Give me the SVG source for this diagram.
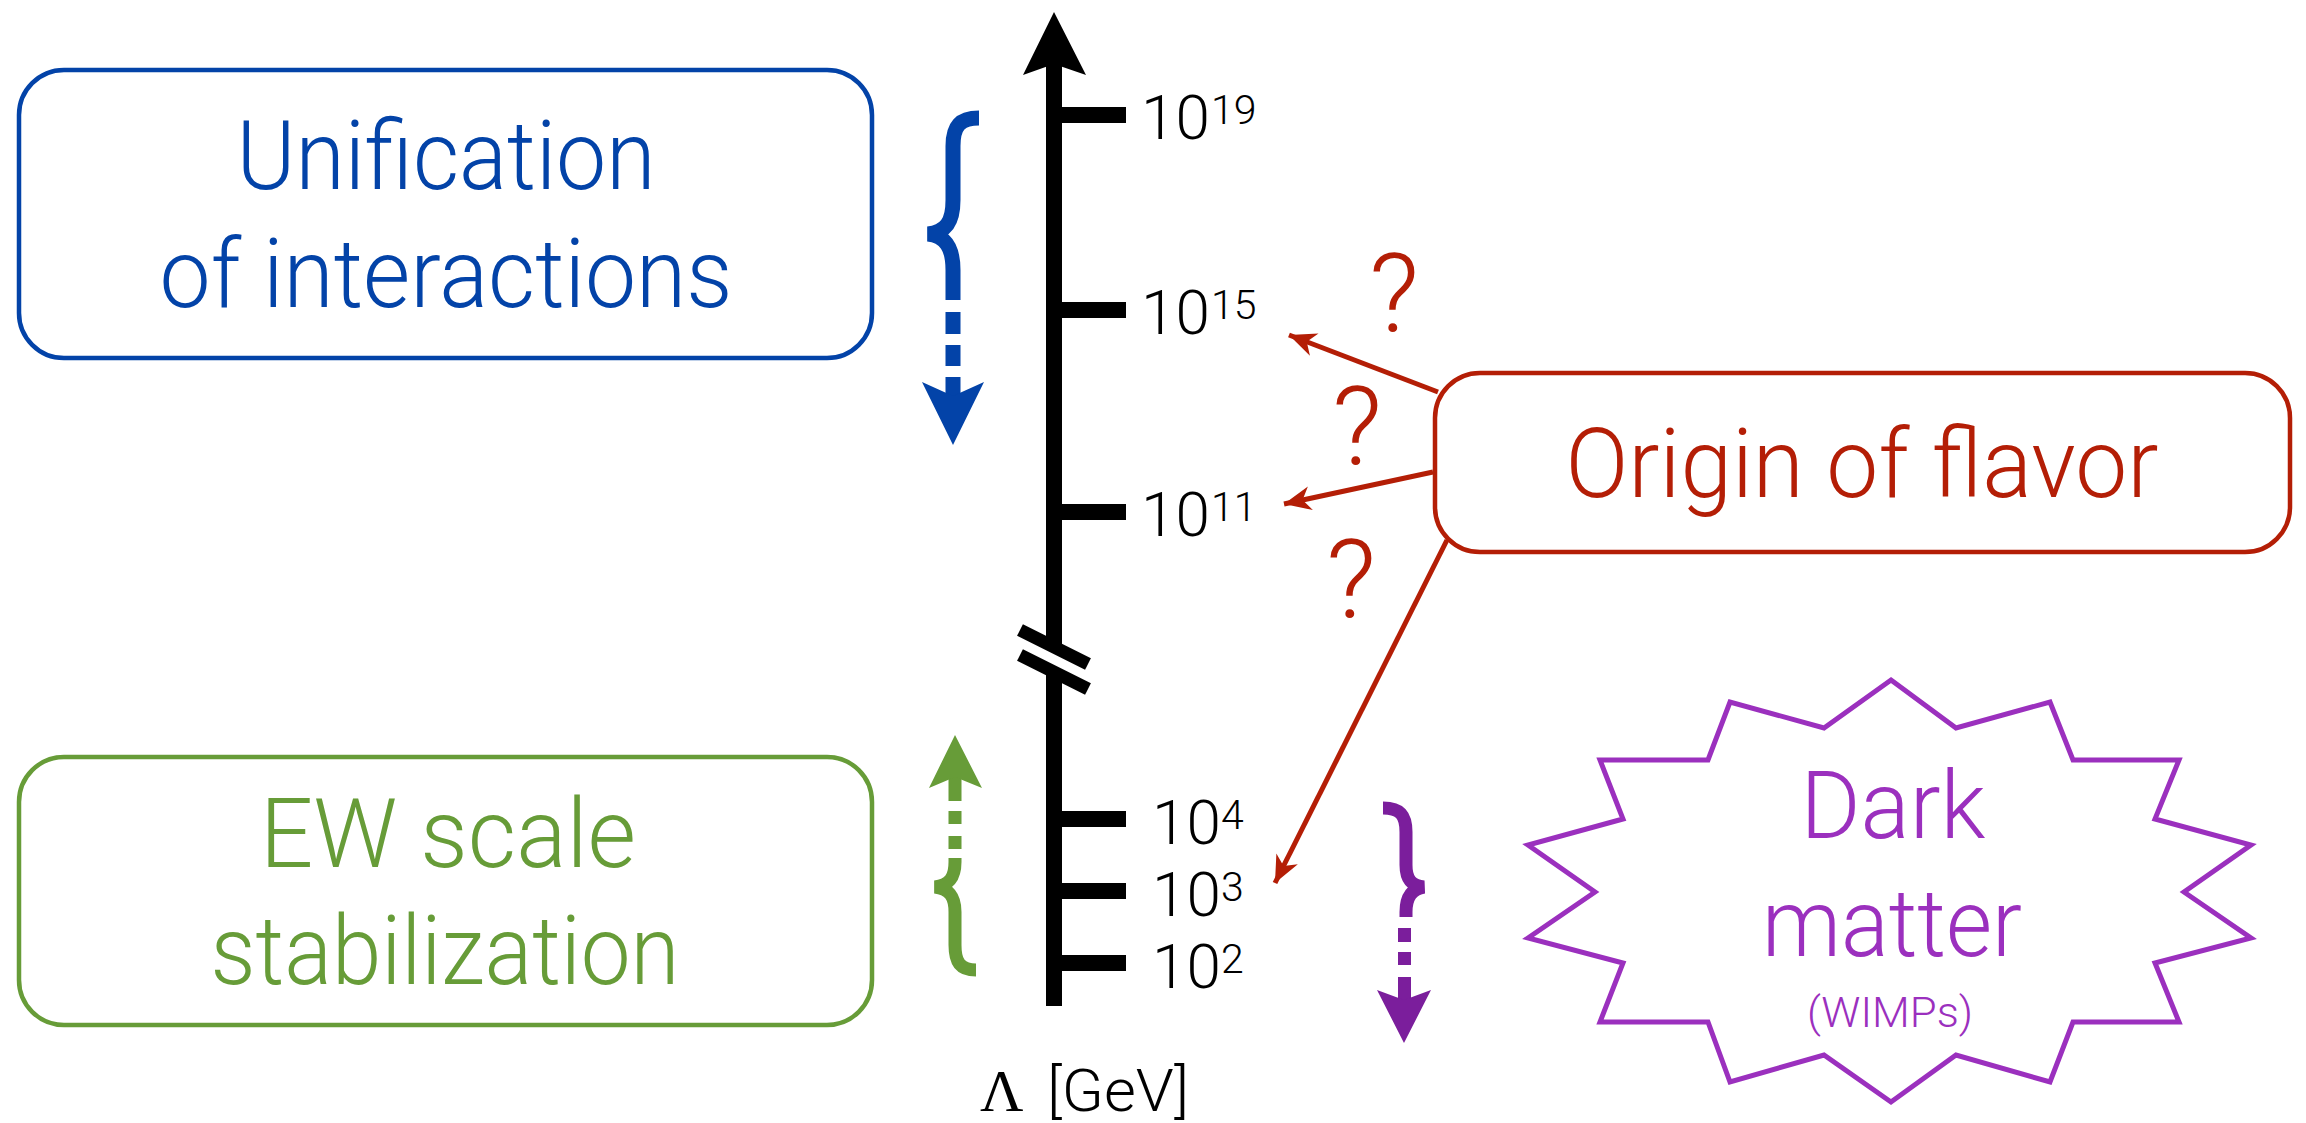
<svg xmlns="http://www.w3.org/2000/svg" width="2306" height="1123" viewBox="0 0 2306 1123">
<style>
.t{font-family:Roboto,"Liberation Sans",Arial,sans-serif;font-weight:300}
.big{font-size:96px}
.tick{font-size:62px;fill:#000}
.sup{font-size:41px;fill:#000}
.q{font-size:110px;fill:#B41E06}
.box{fill:#fff;stroke-width:4.5}
</style>
<defs>
<marker id="ahr" markerUnits="userSpaceOnUse" markerWidth="32" markerHeight="32" viewBox="-30 -16 32 32" refX="0" refY="0" orient="auto">
<path d="M0,0 L-27,-12 L-19,0 L-27,12 Z" fill="#B41E06"/>
</marker>
</defs>
<rect width="2306" height="1123" fill="#fff"/>

<g id="axis">
<rect x="1046" y="60" width="16" height="946" fill="#000"/>
<polygon points="1054,12 1086,75 1054,64 1023,75" fill="#000"/>
<rect x="1054" y="107" width="72" height="16" fill="#000"/>
<rect x="1054" y="302" width="72" height="16" fill="#000"/>
<rect x="1054" y="504" width="72" height="16" fill="#000"/>
<rect x="1054" y="811" width="72" height="16" fill="#000"/>
<rect x="1054" y="883" width="72" height="16" fill="#000"/>
<rect x="1054" y="955" width="72" height="16" fill="#000"/>
<line x1="1030" y1="647.5" x2="1080" y2="672.5" stroke="#fff" stroke-width="12"/>
<line x1="1020" y1="630" x2="1088" y2="664" stroke="#000" stroke-width="13"/>
<line x1="1020" y1="655" x2="1088" y2="689" stroke="#000" stroke-width="13"/>
<text class="t tick" x="1141" y="139">10</text><text class="t sup" x="1211" y="124">19</text>
<text class="t tick" x="1141" y="334">10</text><text class="t sup" x="1211" y="319">15</text>
<text class="t tick" x="1141" y="536">10</text><text class="t sup" x="1211" y="521">11</text>
<text class="t tick" x="1152" y="844">10</text><text class="t sup" x="1221" y="829">4</text>
<text class="t tick" x="1152" y="916">10</text><text class="t sup" x="1221" y="901">3</text>
<text class="t tick" x="1152" y="988">10</text><text class="t sup" x="1221" y="973">2</text>
<text x="980" y="1111" font-family="'Liberation Serif','Times New Roman',serif" font-size="60">Λ</text>
<text class="t" x="1047" y="1111" font-size="60" textLength="142" lengthAdjust="spacingAndGlyphs">[GeV]</text>
</g>

<g id="unification">
<rect class="box" x="19" y="70" width="853" height="288" rx="45" stroke="#0343A8"/>
<text class="t big" x="446" y="189" text-anchor="middle" fill="#0343A8" textLength="419" lengthAdjust="spacingAndGlyphs">Unification</text>
<text class="t big" x="446" y="307" text-anchor="middle" fill="#0343A8" textLength="573" lengthAdjust="spacingAndGlyphs">of interactions</text>
</g>

<g id="ew">
<rect class="box" x="19" y="757" width="853" height="268" rx="45" stroke="#679C38"/>
<text class="t big" x="448" y="867" text-anchor="middle" fill="#679C38" textLength="376" lengthAdjust="spacingAndGlyphs">EW scale</text>
<text class="t big" x="445" y="984" text-anchor="middle" fill="#679C38" textLength="469" lengthAdjust="spacingAndGlyphs">stabilization</text>
</g>

<g id="flavor">
<rect class="box" x="1435" y="373" width="855" height="179" rx="45" stroke="#B41E06" stroke-width="5"/>
<text class="t big" x="1862" y="497" text-anchor="middle" fill="#B41E06" textLength="593" lengthAdjust="spacingAndGlyphs">Origin of flavor</text>
</g>

<g id="darkmatter">
<polygon points="1891,680 1956,728 2050,702 2073,760 2179,760 2155,819 2251,845 2184,892 2251,938 2155,963 2179,1022 2073,1022 2050,1082 1956,1055 1891,1102 1824,1055 1730,1082 1708,1022 1600,1022 1623,963 1528,938 1595,892 1528,845 1623,819 1600,760 1708,760 1730,702 1824,728" fill="#fff" stroke="#9B30BE" stroke-width="5"/>
<text class="t" x="1893" y="838" font-size="94" text-anchor="middle" fill="#9B30BE" textLength="185" lengthAdjust="spacingAndGlyphs">Dark</text>
<text class="t" x="1892" y="956" font-size="94" text-anchor="middle" fill="#9B30BE" textLength="260" lengthAdjust="spacingAndGlyphs">matter</text>
<text class="t" x="1890" y="1027" font-size="42" text-anchor="middle" fill="#9B30BE" textLength="166" lengthAdjust="spacingAndGlyphs">(WIMPs)</text>
</g>

<g id="connectors" fill="none">
<g id="blue-range">
<path d="M979 118 C960 118 953 126 953 146 L953 200 C953 222 946 232 928 234 C946 236 953 248 953 270 L953 300" stroke="#0343A8" stroke-width="15"/>
<rect x="945.5" y="312" width="15" height="22" fill="#0343A8"/>
<rect x="945.5" y="345" width="15" height="21" fill="#0343A8"/>
<rect x="945.5" y="377" width="15" height="20" fill="#0343A8"/>
<polygon points="953,445 984,382 953,396 922,382" fill="#0343A8"/>
</g>
<g id="green-range">
<path d="M976 970 C960 970 955 962 955 945 L955 912 C955 897 950 889 935 887 C950 885 955 877 955 862 L955 858" stroke="#679C38" stroke-width="13"/>
<rect x="948.5" y="836" width="13" height="13" fill="#679C38"/>
<rect x="948.5" y="811" width="13" height="13" fill="#679C38"/>
<rect x="948.5" y="775" width="13" height="26" fill="#679C38"/>
<polygon points="955,735 982,788 955,777 929,788" fill="#679C38"/>
</g>
<g id="purple-range">
<path d="M1383 808 C1400 808 1406 815 1406 832 L1406 865 C1406 880 1412 886 1424 887 C1412 889 1406 897 1406 912 L1406 917" stroke="#7B1E9C" stroke-width="13"/>
<rect x="1398" y="928" width="13" height="14" fill="#7B1E9C"/>
<rect x="1398" y="952" width="13" height="13" fill="#7B1E9C"/>
<rect x="1398" y="977" width="13" height="25" fill="#7B1E9C"/>
<polygon points="1404,1043 1431,990 1404,1000 1377,990" fill="#7B1E9C"/>
</g>
<g id="flavor-arrows" stroke="#B41E06" stroke-width="5">
<line x1="1438" y1="392" x2="1289" y2="335" marker-end="url(#ahr)"/>
<line x1="1433" y1="472" x2="1284" y2="504" marker-end="url(#ahr)"/>
<line x1="1447" y1="540" x2="1275" y2="883" marker-end="url(#ahr)"/>
</g>
<text class="t q" x="1394" y="332" text-anchor="middle">?</text>
<text class="t q" x="1357" y="465" text-anchor="middle">?</text>
<text class="t q" x="1351" y="618" text-anchor="middle">?</text>
</g>
</svg>
